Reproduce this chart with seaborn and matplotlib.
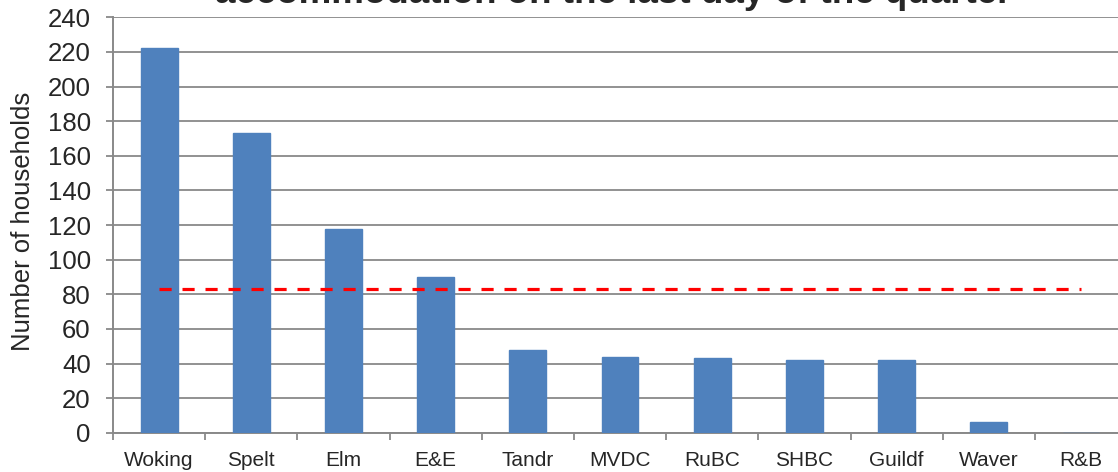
import numpy as np
import matplotlib
matplotlib.use("Agg")
import matplotlib.pyplot as plt
import seaborn as sns

# Data
areas = ['Woking', 'Spelt', 'Elm', 'E&E', 'Tandr', 'MVDC', 'RuBC', 'SHBC', 'Guildf', 'Waver', 'R&B']
households = [222, 173, 118, 90, 48, 44, 43, 42, 42, 6, 0]
average_level = 83
y_ticks = list(range(0, 241, 20))
title = 'accommodation on the last day of the quarter'

sns.set_theme(style="white")
plt.rcParams['font.family'] = ['Liberation Sans', 'DejaVu Sans']

grey = '#898989'
fig = plt.figure(figsize=(11.18, 4.72), dpi=100)
# axes run past the right edge, like the cropped original
ax = fig.add_axes([0.1011, 0.0830, 0.9070, 0.8803])

sns.barplot(x=areas, y=households, color='#4F81BD', width=0.4, saturation=1,
            edgecolor='#4F81BD', ax=ax, zorder=3)
ax.plot(areas, [average_level] * len(areas), color='#FF0000', lw=2.3,
        dashes=(3.8, 3.4), zorder=4)

ax.set_ylim(0, 240)
ax.set_xlim(-0.5, len(areas) - 0.5)
ax.set_yticks(y_ticks)
ax.yaxis.grid(True, color=grey, lw=1.3, zorder=0)
ax.set_axisbelow(True)

for side in ['top', 'right']:
    ax.spines[side].set_visible(False)
for side in ['left', 'bottom']:
    ax.spines[side].set_color(grey)
    ax.spines[side].set_linewidth(1.4)

ax.tick_params(axis='y', direction='out', length=5, width=1.3, color=grey,
               labelsize=18.5, pad=11, left=True)
ax.tick_params(axis='x', which='major', length=0, labelsize=15, pad=13)
ax.set_xticks(np.arange(-0.5, len(areas), 1.0), minor=True)
ax.tick_params(axis='x', which='minor', direction='out', length=5, width=1.3,
               color=grey, bottom=True)

ax.set_ylabel('')
ax.set_xlabel('')
fig.text(23 / 1118, 0.53, 'Number of households', rotation=90, ha='center',
         va='center', fontsize=18.5)

# title is cut off by the top edge in the original
fig.text(613 / 1118, 1 - 3 / 472, title, ha='center', va='baseline',
         fontsize=26.5, fontweight='bold')

fig.savefig('out.png', dpi=100)
